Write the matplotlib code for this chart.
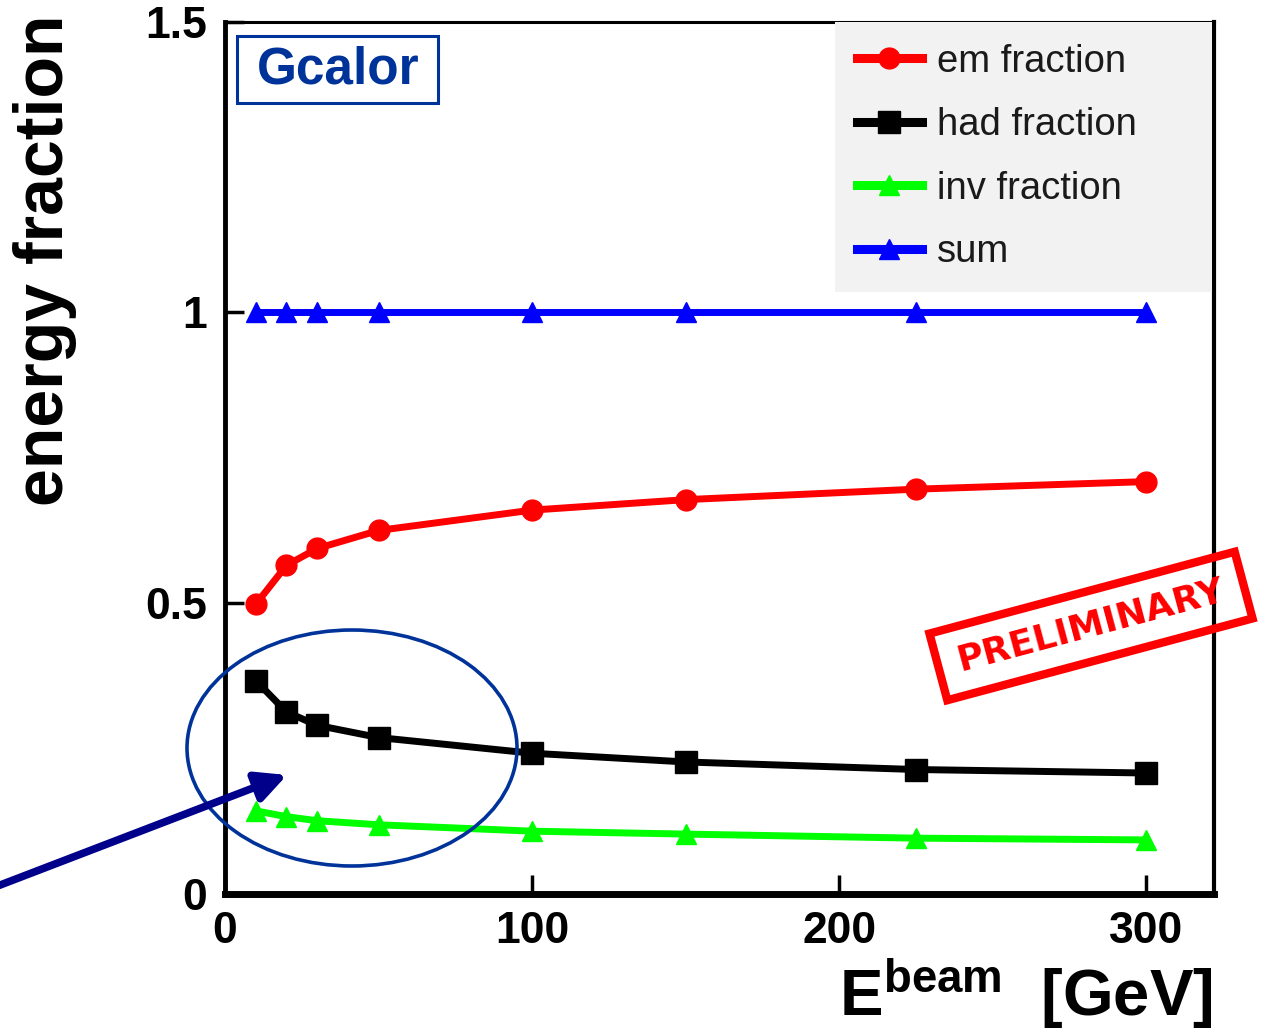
import matplotlib
matplotlib.use("Agg")
import matplotlib.pyplot as plt
from matplotlib.patches import Rectangle, Ellipse, FancyArrowPatch
from matplotlib.transforms import IdentityTransform

plt.rcParams['font.family'] = ['Liberation Sans', 'DejaVu Sans']
plt.rcParams['mathtext.fontset'] = 'custom'
plt.rcParams['mathtext.rm'] = 'Liberation Sans'
plt.rcParams['mathtext.bf'] = 'Liberation Sans:bold'
plt.rcParams['mathtext.it'] = 'Liberation Sans:italic'

# ---- data ----
energy = [10, 20, 30, 50, 100, 150, 225, 300]
em_fraction = [0.498, 0.565, 0.594, 0.625, 0.660, 0.678, 0.696, 0.709]
had_fraction = [0.367, 0.313, 0.290, 0.269, 0.242, 0.227, 0.214, 0.208]
inv_fraction = [0.143, 0.133, 0.126, 0.119, 0.108, 0.103, 0.096, 0.093]
sum_fraction = [1.0, 1.0, 1.0, 1.0, 1.0, 1.0, 1.0, 1.0]
series_labels = ['em fraction', 'had fraction', 'inv fraction', 'sum']
x_ticks = [0, 100, 200, 300]
x_ticklabels = ['0', '100', '200', '300']
y_ticks = [0, 0.5, 1, 1.5]
y_ticklabels = ['0', '0.5', '1', '1.5']

W, H = 1266, 1031
fig = plt.figure(figsize=(W / 100, H / 100), dpi=100)
ax = fig.add_axes([225 / W, 1 - 894 / H, (1214 - 225) / W, (894 - 21.5) / H])

lw = 5.0
l_sum, = ax.plot(energy, sum_fraction, color='#0000ff', lw=lw, marker='^', ms=15, zorder=3)
l_em, = ax.plot(energy, em_fraction, color='#ff0000', lw=lw, marker='o', ms=15, zorder=3)
l_had, = ax.plot(energy, had_fraction, color='#000000', lw=lw, marker='s', ms=16, zorder=3)
l_inv, = ax.plot(energy, inv_fraction, color='#00ff00', lw=lw, marker='^', ms=15, zorder=3)

ax.set_xlim(0, 322)
ax.set_ylim(0, 1.5)
ax.set_xticks(x_ticks)
ax.set_xticklabels(x_ticklabels)
ax.set_yticks(y_ticks)
ax.set_yticklabels(y_ticklabels)
ax.tick_params(axis='both', which='major', direction='in', length=14, width=2.5,
               labelsize=32, color='black')
ax.tick_params(axis='x', pad=12)
ax.tick_params(axis='y', pad=13)
for lab in ax.get_xticklabels() + ax.get_yticklabels():
    lab.set_fontweight('bold')

ax.spines['left'].set_linewidth(3.5)
ax.spines['bottom'].set_linewidth(5)
ax.spines['top'].set_linewidth(2.2)
ax.spines['right'].set_linewidth(3)

ax.set_ylabel('energy fraction', fontsize=49, fontweight='bold', ha='right')
ax.yaxis.set_label_coords(-0.1496, 1.0075)
ax.set_xlabel(r'$\mathbf{E^{beam}}$  [GeV]', fontsize=47, fontweight='bold', ha='right')
ax.xaxis.set_label_coords(0.999, -0.0716)

leg = ax.legend([l_em, l_had, l_inv, l_sum], series_labels, loc='upper left',
                bbox_to_anchor=(0.6165, 1.0, 0.381, 0.0), mode='expand',
                borderaxespad=0, frameon=True, fancybox=False, facecolor='#f2f2f2',
                edgecolor='none', framealpha=1, fontsize=27.5, handlelength=1.7,
                handletextpad=0.4, labelspacing=0.72, borderpad=0.58)
for t in leg.get_texts():
    t.set_color('#1a1a1a')
for ln in leg.get_lines():
    ln.set_linewidth(6.5)

# Gcalor box
idt = IdentityTransform()
fig.add_artist(Rectangle((236.5, H - 102.5), 201, 67, fill=False, edgecolor='#003399',
                         lw=2.2, transform=idt))
fig.text(338 / W, 1 - 70 / H, 'Gcalor', fontsize=37, fontweight='bold', color='#003399',
         ha='center', va='center')

# PRELIMINARY stamp
cx, cy = 1091, H - 626
ang = 15
fig.add_artist(Rectangle((cx - 158, cy - 34.5), 316, 69, angle=ang, rotation_point='center',
                         fill=False, edgecolor='#ff0000', lw=6, transform=idt))
fig.text(cx / W, cy / H, 'PRELIMINARY', fontsize=26, fontweight='bold', color='#ff0000',
         family=['DejaVu Sans'], rotation=ang, rotation_mode='anchor', ha='center', va='center')

# ellipse highlight
fig.add_artist(Ellipse((352, H - 748), 330, 236, fill=False, edgecolor='#003399', lw=2.6,
                       transform=idt))

# arrow
fig.add_artist(FancyArrowPatch((-5, H - 887), (287, H - 775), arrowstyle='-|>',
                               mutation_scale=45, color='#00008b', lw=5.5,
                               shrinkA=0, shrinkB=0, transform=idt))

fig.savefig('out.png', dpi=100)
